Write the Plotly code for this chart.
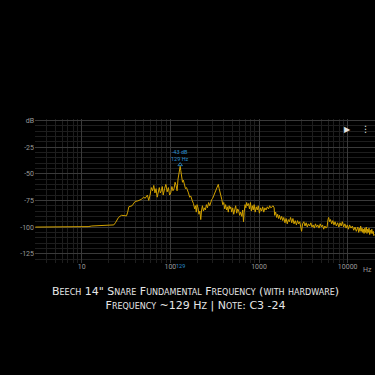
import math
import plotly.graph_objects as go

freq_hz = [
    3, 5, 8, 11.8, 13, 16, 20, 23, 24, 26, 28, 30, 32, 33, 34, 37, 40, 43, 47, 50,
    52, 55, 57, 59, 61, 63, 65, 67, 69, 71, 73, 75, 77, 79, 81, 83, 86, 89, 92, 95,
    98, 101, 104, 107, 110, 113, 116, 119, 122, 125, 127, 129, 131, 134, 137, 140, 144, 148, 152, 156,
    160, 165, 170, 176, 182, 188, 192, 196, 200, 205, 210, 215, 220, 225, 230, 236, 242, 248, 255, 262,
    270, 278, 285, 293, 300, 310, 320, 330, 340, 347, 355, 362, 370, 380, 390, 400, 410, 420, 430, 440,
    450, 460, 470, 480, 492, 505, 518, 530, 545, 560, 575, 590, 605, 620, 640, 655, 668, 680, 695, 710,
    725, 740, 760, 780, 800, 820, 840, 860, 880, 905, 930, 955, 980, 1010, 1040, 1070, 1100, 1130, 1165, 1200,
    1240, 1280, 1320, 1360, 1400, 1440, 1480, 1500, 1540, 1580, 1620, 1660, 1700, 1750, 1800, 1850, 1900, 1960, 2020, 2080,
    2140, 2200, 2270, 2340, 2410, 2480, 2560, 2640, 2720, 2800, 2880, 2960, 3020, 3100, 3200, 3300, 3400, 3500, 3600, 3720,
    3840, 3960, 4080, 4200, 4330, 4460, 4600, 4750, 4900, 5050, 5200, 5360, 5530, 5700, 5850, 6000, 6100, 6250, 6400, 6600,
    6800, 7000, 7200, 7450, 7700, 7950, 8200, 8450, 8700, 9000, 9300, 9600, 9900, 10200, 10500, 10900, 11300, 11700, 12100, 12500,
    13000, 13300, 13500, 13800, 14000, 14300, 14500, 14800, 15000, 15300, 15600, 15900, 16200, 16500, 16800, 17100, 17400, 17700, 18000, 18400,
    18700, 19000, 19400, 19700, 20000,
]

level_db = [
    -100, -100, -100, -99.6, -99, -98.5, -98, -98, -96, -91, -89, -89, -89.5, -86, -81, -80, -76, -75.5, -74, -72,
    -73, -70, -75, -70, -63, -66, -61, -68, -64, -72, -65, -63, -68, -66, -62, -70, -64, -60, -67, -63,
    -70, -68, -62, -66, -64, -58, -61, -66, -55, -50, -45, -43, -47, -55, -58, -56, -61, -64, -63, -67,
    -68, -72, -71, -75, -78, -83, -80, -86, -79, -82, -88, -85, -93, -84, -80, -85, -82, -84, -79, -82,
    -77, -80, -76, -74, -73, -70, -67, -65, -62, -60, -64, -68, -72, -74, -79, -77, -83, -79, -84, -81,
    -86, -80, -83, -81, -86, -82, -88, -84, -80, -87, -83, -85, -89, -86, -90, -84, -95, -86, -79, -82,
    -77, -80, -78, -83, -77, -85, -80, -84, -79, -86, -81, -84, -80, -87, -82, -85, -81, -86, -82, -84,
    -81, -83, -80, -82, -81, -80, -82, -89, -86, -91, -88, -92, -89, -93, -90, -94, -91, -96, -92, -97,
    -93, -95, -91, -96, -92, -97, -94, -98, -94, -97, -95, -99, -104, -97, -95, -99, -96, -100, -97, -99,
    -96, -100, -98, -101, -97, -100, -98, -101, -97, -100, -98, -102, -99, -101, -100, -93, -91, -95, -93, -97,
    -94, -98, -95, -99, -96, -100, -96, -99, -95, -100, -97, -101, -98, -102, -98, -101, -99, -103, -100, -104,
    -100, -105, -101, -104, -99, -104, -101, -105, -102, -106, -101, -105, -100, -106, -102, -105, -101, -107, -103, -106,
    -102, -106, -104, -108, -107,
]

y_tickvals = [0, -25, -50, -75, -100, -125]
y_ticktext = ["dB", "-25", "-50", "-75", "-100", "-125"]
x_tickvals = [10, 100, 1000, 10000]
x_ticktext = ["10", "100", "1000", "10000"]

peak_freq = 129
peak_db = -43

title_line1 = "Beech 14\" Snare Fundamental Frequency (with hardware)"
title_line2 = "Frequency ~129 Hz | Note: C3 -24"

BLUE = "#2a8fd0"

fig = go.Figure()
fig.add_trace(go.Scatter(
    x=freq_hz, y=level_db, mode="lines",
    line=dict(color="#d2a200", width=1),
    hoverinfo="skip", showlegend=False,
))
fig.add_trace(go.Scatter(
    x=[peak_freq], y=[peak_db + 1.5], mode="markers",
    marker=dict(symbol="triangle-up-open", size=4, color=BLUE, line=dict(width=0.8, color=BLUE)),
    hoverinfo="skip", showlegend=False,
))

fig.update_layout(
    width=375, height=375,
    paper_bgcolor="#000000", plot_bgcolor="#000000",
    margin=dict(l=35, r=0, t=119, b=112),
    font=dict(family="Roboto", color="#9a9a9a", size=7),
    xaxis=dict(
        type="log", range=[0.473, 4.308],
        tickvals=x_tickvals, ticktext=x_ticktext,
        showgrid=True, gridcolor="#3a3a3a", gridwidth=1,
        minor=dict(showgrid=True, gridcolor="#1e1e1e", dtick="D1", ticks=""),
        zeroline=False, showline=False, ticks="", ticklen=0,
        ticklabelstandoff=-2,
        tickfont=dict(size=7, color="#9a9a9a"),
    ),
    yaxis=dict(
        range=[-133.7, 1.3],
        tickvals=y_tickvals, ticktext=y_ticktext,
        showgrid=True, gridcolor="#3a3a3a", gridwidth=1,
        minor=dict(showgrid=True, gridcolor="#1e1e1e", dtick=5, tick0=0, ticks=""),
        zeroline=False, showline=False, ticks="", ticklen=0,
        tickfont=dict(size=7, color="#9a9a9a"),
    ),
)

fig.add_annotation(
    x=math.log10(peak_freq), y=peak_db, xref="x", yref="y", xanchor="center", yanchor="bottom", yshift=2,
    text="-43 dB<br>129 Hz", showarrow=False,
    font=dict(size=5.5, color=BLUE, family="Roboto"),
)
fig.add_annotation(
    x=math.log10(peak_freq), y=0, xref="x", yref="paper", xanchor="center", yanchor="top", yshift=2,
    text="129", showarrow=False,
    font=dict(size=5.5, color=BLUE, family="Roboto"),
)
fig.add_annotation(
    x=1, y=0, xref="paper", yref="paper", xanchor="right", yanchor="top", xshift=-1, yshift=-1,
    text="Hz", showarrow=False,
    font=dict(size=7, color="#9a9a9a", family="Roboto"),
)
fig.add_annotation(
    x=0.92, y=0.93, xref="paper", yref="paper", xanchor="center", yanchor="middle",
    text="▶", showarrow=False, font=dict(size=8, color="#e0e0e0", family="DejaVu Sans"),
)
fig.add_annotation(
    x=0.973, y=0.93, xref="paper", yref="paper", xanchor="center", yanchor="middle",
    text="⋮", showarrow=False, font=dict(size=9, color="#e0e0e0", family="DejaVu Sans"),
)
fig.add_annotation(
    x=0.4706, y=-0.245, xref="paper", yref="paper", xanchor="center", yanchor="middle",
    text=title_line1 + "<br>" + title_line2, showarrow=False,
    font=dict(size=11, color="#e6e6e6", family="DejaVu Sans", variant="small-caps"),
)

fig.write_html("out.html")
